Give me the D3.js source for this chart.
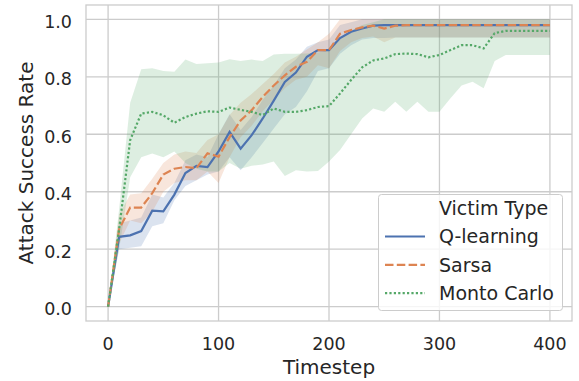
<!DOCTYPE html>
<html>
<head>
<meta charset="utf-8">
<script src="https://cdn.jsdelivr.net/npm/d3@7"></script>
<style>
  body { margin: 0; background: #ffffff; }
  svg { display: block; font-family: 'DejaVu Sans', sans-serif; }
</style>
</head>
<body>
<svg id="chart" width="579" height="381"></svg>
<script>
// timesteps shared by all series
const timesteps = d3.range(0, 401, 10);

// Q-learning: mean and confidence band
const qMean = [0, 0.243, 0.248, 0.263, 0.334, 0.332, 0.39, 0.465, 0.49, 0.486, 0.54, 0.608, 0.55, 0.597, 0.655, 0.717, 0.782, 0.815, 0.87, 0.893, 0.893,
  0.935, 0.957, 0.968, 0.978, 0.98, 0.98, 0.98, 0.98, 0.98, 0.98, 0.98, 0.98, 0.98, 0.98, 0.98, 0.98, 0.98, 0.98, 0.98, 0.98];
const qLow = [0, 0.2, 0.205, 0.21, 0.28, 0.29, 0.37, 0.42, 0.44, 0.46, 0.47, 0.52, 0.475, 0.52, 0.57, 0.62, 0.67, 0.695, 0.75, 0.82, 0.83,
  0.88, 0.91, 0.93, 0.935, 0.935, 0.937, 0.937, 0.937, 0.937, 0.937, 0.937, 0.937, 0.937, 0.937, 0.937, 0.937, 0.937, 0.937, 0.937, 0.937];
const qHigh = [0, 0.29, 0.3, 0.31, 0.39, 0.38, 0.43, 0.51, 0.53, 0.52, 0.6, 0.67, 0.615, 0.66, 0.72, 0.77, 0.83, 0.86, 0.905, 0.92, 0.93,
  0.98, 0.99, 1.0, 1.0, 1.0, 1.0, 1.0, 1.0, 1.0, 1.0, 1.0, 1.0, 1.0, 1.0, 1.0, 1.0, 1.0, 1.0, 1.0, 1.0];

// Sarsa
const sMean = [0, 0.27, 0.345, 0.345, 0.395, 0.46, 0.48, 0.486, 0.482, 0.534, 0.522, 0.59, 0.648, 0.684, 0.73, 0.77, 0.805, 0.835, 0.852, 0.893, 0.893,
  0.95, 0.963, 0.972, 0.978, 0.968, 0.978, 0.98, 0.98, 0.98, 0.98, 0.98, 0.98, 0.98, 0.98, 0.98, 0.98, 0.98, 0.98, 0.98, 0.98];
const sLow = [0, 0.22, 0.3, 0.29, 0.33, 0.4, 0.43, 0.44, 0.44, 0.47, 0.43, 0.52, 0.59, 0.63, 0.68, 0.72, 0.76, 0.79, 0.8, 0.84, 0.83,
  0.89, 0.92, 0.935, 0.94, 0.92, 0.937, 0.937, 0.937, 0.937, 0.937, 0.937, 0.937, 0.937, 0.937, 0.937, 0.937, 0.937, 0.937, 0.937, 0.937];
const sHigh = [0, 0.32, 0.39, 0.395, 0.445, 0.5, 0.53, 0.54, 0.535, 0.58, 0.6, 0.667, 0.71, 0.74, 0.775, 0.81, 0.85, 0.87, 0.895, 0.92, 0.95,
  1.0, 1.0, 1.0, 1.0, 1.0, 1.0, 1.0, 1.0, 1.0, 1.0, 1.0, 1.0, 1.0, 1.0, 1.0, 1.0, 1.0, 1.0, 1.0, 1.0];

// Monto Carlo
const mMean = [0, 0.27, 0.58, 0.672, 0.678, 0.666, 0.64, 0.66, 0.672, 0.68, 0.678, 0.693, 0.685, 0.678, 0.667, 0.69, 0.678, 0.678, 0.684, 0.695, 0.698,
  0.742, 0.789, 0.833, 0.857, 0.864, 0.879, 0.881, 0.879, 0.868, 0.876, 0.893, 0.91, 0.91, 0.899, 0.952, 0.96, 0.96, 0.96, 0.96, 0.96];
const mLow = [0, 0.2, 0.45, 0.52, 0.533, 0.52, 0.54, 0.5, 0.48, 0.47, 0.47, 0.5, 0.48, 0.49, 0.495, 0.505, 0.455, 0.475, 0.47, 0.472, 0.505,
  0.545, 0.6, 0.655, 0.69, 0.678, 0.713, 0.678, 0.713, 0.678, 0.678, 0.725, 0.77, 0.783, 0.76, 0.855, 0.876, 0.876, 0.876, 0.876, 0.876];
const mHigh = [0, 0.34, 0.71, 0.826, 0.83, 0.82, 0.818, 0.86, 0.845, 0.847, 0.85, 0.861, 0.855, 0.86, 0.855, 0.878, 0.88, 0.88, 0.881, 0.885, 0.893,
  0.93, 0.96, 0.98, 0.99, 1.0, 1.0, 1.0, 1.0, 1.0, 1.0, 1.0, 1.0, 1.0, 1.0, 1.0, 1.0, 1.0, 1.0, 1.0, 1.0];

const xTicks = [0, 100, 200, 300, 400];
const yTicks = [0, 0.2, 0.4, 0.6, 0.8, 1.0];
const seriesNames = ['Q-learning', 'Sarsa', 'Monto Carlo'];

const series = [
  { name: seriesNames[0], mean: qMean, low: qLow, high: qHigh, color: '#4c72b0', dash: null },
  { name: seriesNames[1], mean: sMean, low: sLow, high: sHigh, color: '#dd8452', dash: '8.5,3.3' },
  { name: seriesNames[2], mean: mMean, low: mLow, high: mHigh, color: '#55a868', dash: '2.2,2.2' }
];

const margin = { top: 5, right: 7, bottom: 60, left: 86 };
const W = 579, H = 381;
const textColor = '#262626';
const gridColor = '#cccccc';

const svg = d3.select('#chart');

const x = d3.scaleLinear().domain([-20, 420]).range([margin.left, W - margin.right]);
const y = d3.scaleLinear().domain([-0.05, 1.05]).range([H - margin.bottom, margin.top]);

// grid
svg.append('g').selectAll('line')
  .data(xTicks).enter().append('line')
  .attr('x1', d => x(d)).attr('x2', d => x(d))
  .attr('y1', margin.top).attr('y2', H - margin.bottom)
  .attr('stroke', gridColor).attr('stroke-width', 1.3);
svg.append('g').selectAll('line')
  .data(yTicks).enter().append('line')
  .attr('x1', margin.left).attr('x2', W - margin.right)
  .attr('y1', d => y(d)).attr('y2', d => y(d))
  .attr('stroke', gridColor).attr('stroke-width', 1.3);

// confidence bands first, lines above them
const band = s => d3.area()
  .x((d, i) => x(timesteps[i]))
  .y0((d, i) => y(s.low[i]))
  .y1((d, i) => y(s.high[i]));

series.forEach(s => {
  svg.append('path')
    .datum(s.mean)
    .attr('fill', s.color)
    .attr('fill-opacity', 0.2)
    .attr('stroke', 'none')
    .attr('d', band(s));
});

const line = d3.line()
  .x((d, i) => x(timesteps[i]))
  .y(d => y(d));

series.forEach(s => {
  svg.append('path')
    .datum(s.mean)
    .attr('fill', 'none')
    .attr('stroke', s.color)
    .attr('stroke-width', 2.2)
    .attr('stroke-dasharray', s.dash)
    .attr('d', line);
});

// frame
svg.append('rect')
  .attr('x', margin.left).attr('y', margin.top)
  .attr('width', W - margin.left - margin.right)
  .attr('height', H - margin.top - margin.bottom)
  .attr('fill', 'none').attr('stroke', gridColor).attr('stroke-width', 1.3);

// tick labels
svg.append('g').selectAll('text')
  .data(xTicks).enter().append('text')
  .attr('x', d => x(d)).attr('y', 350)
  .attr('text-anchor', 'middle')
  .attr('font-size', '17.5px').attr('fill', textColor)
  .text(d => d);
svg.append('g').selectAll('text')
  .data(yTicks).enter().append('text')
  .attr('x', 72).attr('y', d => y(d) + 8.6)
  .attr('text-anchor', 'end')
  .attr('font-size', '17.5px').attr('fill', textColor)
  .text(d => d3.format('.1f')(d));

// axis labels
svg.append('text')
  .attr('x', x(200)).attr('y', 374)
  .attr('text-anchor', 'middle')
  .attr('font-size', '20px').attr('fill', textColor)
  .text('Timestep');
svg.append('text')
  .attr('transform', `translate(33, ${(margin.top + H - margin.bottom) / 2}) rotate(-90)`)
  .attr('text-anchor', 'middle')
  .attr('font-size', '20px').attr('fill', textColor)
  .text('Attack Success Rate');

// legend
const legend = svg.append('g').attr('transform', 'translate(378.5, 194.5)');
legend.append('rect')
  .attr('width', 184).attr('height', 116).attr('rx', 3)
  .attr('fill', '#ffffff').attr('fill-opacity', 0.8)
  .attr('stroke', gridColor).attr('stroke-width', 1);
legend.append('text')
  .attr('x', 60.5).attr('y', 20.5)
  .attr('font-size', '19px').attr('fill', textColor)
  .text('Victim Type');
series.forEach((s, i) => {
  const ly = 48.8 + i * 28.3;
  legend.append('line')
    .attr('x1', 6.5).attr('x2', 46.5)
    .attr('y1', ly - 6.8).attr('y2', ly - 6.8)
    .attr('stroke', s.color).attr('stroke-width', 2.2)
    .attr('stroke-dasharray', s.dash);
  legend.append('text')
    .attr('x', 60.5).attr('y', ly)
    .attr('font-size', '19px').attr('fill', textColor)
    .text(s.name);
});
</script>
</body>
</html>
